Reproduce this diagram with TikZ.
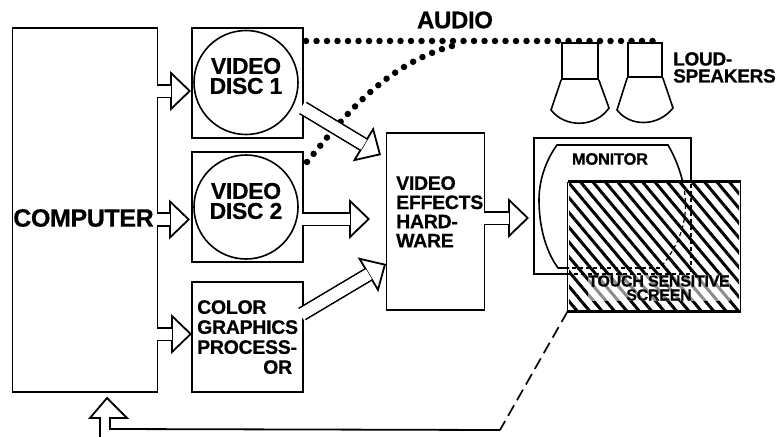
\documentclass[tikz,border=0pt]{standalone}
\usepackage{fontspec}
\newfontfamily\labelfont{Liberation Sans}[BoldFeatures={LetterSpace=-1.5,FakeBold=0.6}]
\usetikzlibrary{positioning,arrows.meta,calc,shapes.geometric,patterns.meta}
\tikzset{
  box/.style={draw,line width=1.9pt,rectangle,inner sep=0pt},
  disc/.style={draw,line width=1.6pt,circle,inner sep=0pt,minimum size=104pt},
  lbl/.style 2 args={font=\labelfont\bfseries\fontsize{#1}{#2}\selectfont,inner sep=0pt,align=left},
  outline/.style={line width=1.6pt},
  hidden/.style={line width=1.2pt,dash pattern=on 4pt off 3pt},
  dots/.style={line width=6.5pt,line cap=round,dash pattern=on 0pt off 10.5pt},
  hollow/.style={line width=1.8pt,double,double distance=11pt,
    -{Triangle[length=21pt,width=40pt,fill=white,line width=1.8pt]},
    postaction={draw=white,double=white,line width=0pt,shorten >=20pt,shorten <=-1.5pt,-}},
}
\begin{document}
\begin{tikzpicture}[x=1pt,y=-1pt]
\useasboundingbox (0,0) rectangle (778,436);
% blocks
\node[box,minimum width=145pt,minimum height=364pt] (computer) at (85,210) {};
\node[box,minimum width=111pt,minimum height=110pt] (disca) at (247.5,83) {};
\node[box,minimum width=111pt,minimum height=110pt] (discb) at (247.5,207) {};
\node[box,minimum width=111pt,minimum height=110pt] (graphics) at (247.5,337) {};
\node[box,minimum width=98pt,minimum height=177pt] (effects) at (435.5,221.5) {};
\node[box,line width=1.6pt,minimum width=157pt,minimum height=136pt] (monitor) at (612.5,206) {};
\node[disc] (platea) at (246,82.5) {};
\node[disc] (plateb) at (246,207) {};
% picture tube, the part behind the overlay comes later
\draw[outline] (569,268) -- (558,268) .. controls (545,250) and (539,225) .. (539,200) .. controls (539,180) and (546,160) .. (557,145) -- (668,145) .. controls (675,157) and (680,170) .. (683,183);
% loudspeakers
\node[box,line width=1.6pt,minimum width=36pt,minimum height=36pt] (boxa) at (580,61) {};
\node[box,line width=1.6pt,minimum width=34pt,minimum height=34pt] (boxb) at (645,60) {};
\draw[outline] (boxa.south west) -- (551,110) .. controls (565,128) and (595,128) .. (609,108) -- (boxa.south east);
\draw[outline] (boxb.south west) -- (617,110) .. controls (630,127) and (658,127) .. (673,108) -- (boxb.south east);
% audio lines
\coordinate (audiob) at (307,162);
\coordinate (audioa) at (306,41);
\coordinate (audioc) at (653,41);
\coordinate (audiod) at (452,46);
\draw[dots] (audioa) -- (audioc);
\draw[dots] (audiob) .. controls (345,115) and (385,65) .. (audiod);
% wide arrows
\draw[hollow] (157,91) -- (191,91);
\draw[hollow] (157,219.5) -- (190,219.5);
\draw[hollow] (157,334) -- (192,334);
\draw[hollow] (303,108) -- (381,155);
\draw[hollow] (303,219) -- (370,219);
\draw[hollow] (302,314) -- (386,264);
\draw[hollow] (484,218) -- (529,218);
% overlay
\node[minimum width=170pt,minimum height=127pt,inner sep=0pt,preaction={fill=white},
  pattern={Lines[angle=-50,distance=9.5pt,line width=3pt]}] (screen) at (654,246.5) {};
\draw[line width=1.3pt] (screen.north west) -- (screen.south west) (screen.north east) -- (screen.south east);
\draw[line width=3pt] (screen.north west) -- (screen.north east) (screen.south west) -- (screen.south east);
\draw[hidden] (683,184) .. controls (688,205) and (688,235) .. (660,268);
\draw[hidden] (660,268) -- (569,268);
\draw[hidden] (691,184) -- (691,274) -- (569,274);
% return line
\coordinate (returna) at (500,430);
\coordinate (returnb) at (100,437);
\draw[line width=1.7pt,dash pattern=on 12pt off 6pt] (screen.south west) -- (returna);
\draw[line width=1.8pt,line join=miter] (returna) -- (110,429) -- (110,418) -- (127,418) -- (107,398) -- (90,418) -- (100,418) -- (returnb);
% labels
\node[lbl={24}{20pt},anchor=center] (audiotext) at (455,20) {AUDIO};
\node[lbl={25}{20pt},anchor=center] (computertext) at (83.5,218) {COMPUTER};
\node[lbl={23}{20pt},align=center] (discatext) at (246,76) {VIDEO\\DISC 1};
\node[lbl={23}{20pt},align=center] (discbtext) at (246,201) {VIDEO\\DISC 2};
\node[lbl={19.5}{20pt},anchor=north west] (graphicstext) at (197,300) {COLOR\\GRAPHICS\\PROCESS-\\\hspace*{66pt}OR};
\node[lbl={19.5}{19.2pt},anchor=north west] (effectstext) at (396,176) {VIDEO\\EFFECTS\\HARD-\\WARE};
\node[lbl={19}{17pt},anchor=north west] (speakertext) at (673,52) {LOUD-\\SPEAKERS};
\node[lbl={16.5}{12pt}] (monitortext) at (610,159) {MONITOR};
\node[lbl={16}{14pt},align=center,fill=white,fill opacity=.55,text opacity=1] (screentext) at (659,288) {TOUCH SENSITIVE\\SCREEN};
\end{tikzpicture}
\end{document}
